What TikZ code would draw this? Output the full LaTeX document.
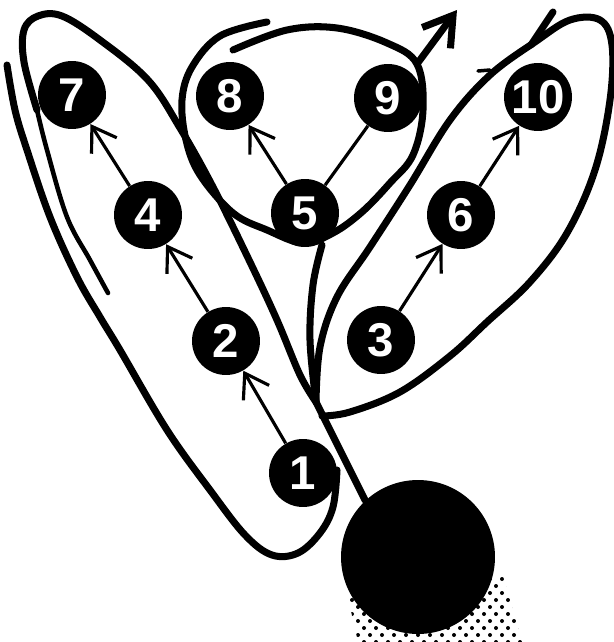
\documentclass[tikz,border=0pt]{standalone}
\usepackage{fontspec}
\setsansfont{Liberation Sans}
\usetikzlibrary{arrows.meta}

\begin{document}
\begin{tikzpicture}[x=0.02cm, y=-0.02cm,
    >={Straight Barb[length=13pt, width=17pt, line width=1.8pt]},
    stone/.style={circle, fill=black, minimum size=1.36cm, inner sep=0pt,
      text=white, font=\sffamily\bfseries\fontsize{27}{27}\selectfont},
    hop/.style={line width=1.8pt},
    track/.style={line width=4pt, line cap=round, line join=round},
    streak/.style={line width=2.6pt, line cap=round}]
  \useasboundingbox (0,0) rectangle (614,642);
  % shadow of the ball
  \begin{scope}
    \clip (348,598) -- (358,642) -- (522,642) -- (503,576) -- cycle;
    \foreach \r in {0,...,10}
      \foreach \c in {0,...,15}
        \fill ({340+12*\c+6*mod(\r,2)},{572+7*\r}) circle (2);
  \end{scope}
  % the ball
  \node[circle, fill=black, minimum size=3.08cm, inner sep=0pt] (ball) at (418,557) {};
  % path of the ball
  \coordinate (fork) at (316,402);
  \coordinate (loopend) at (417,64);
  \coordinate (exit) at (457,10);
  \draw[track] (ball.133) -- (fork);
  % left lap: outer stroke, then inner stroke over the top
  \draw[track] plot[smooth, tension=0.6] coordinates {(337,470) (333,507) (320,533)
    (298,553) (272,555) (245,535) (210,490) (167,430) (120,350) (100,317) (77,277)
    (50,217) (27,150) (15,110) (7,65)};
  \draw[track] plot[smooth, tension=0.6] coordinates {(316,402) (300,375) (277,320)
    (250,262) (213,187) (180,128) (148,80) (100,40) (62,16) (38,16) (24,30) (24,62)
    (37,110)};
  \draw[streak] plot[smooth, tension=0.6] coordinates {(37,110) (47,150) (67,217)
    (90,260) (108,293)};
  \draw[track] plot[smooth, tension=0.6] coordinates {(fork) (310,340) (313,285) (322,245)};
  % middle lap round 8 and 9
  \draw[track] plot[smooth, tension=0.6] coordinates {(267,22) (220,36) (192,67)
    (182,100) (186,140) (200,175) (233,213) (267,230) (303,243) (333,233) (362,212)
    (390,183) (413,155) (423,110) (loopend) (387,43) (337,28) (287,30) (233,50)};
  \draw[track, -{Straight Barb[length=16pt, width=20pt]}] (loopend) -- (exit);
  % right lap
  \draw[track] plot[smooth, tension=0.6] coordinates {(fork) (320,347) (337,297)
    (370,247) (410,185) (450,120) (490,75) (535,42) (570,20) (600,20) (612,45)
    (610,100) (595,170) (567,233) (530,282) (487,322) (450,356) (400,392) (350,412)
    (322,416)};
  \draw[track] (531,45) -- (553,12);
  \draw[streak, line width=2pt] (490,70) -- (478,71);
  % stones
  \node[stone] (n1) at (303,473) {1};
  \node[stone] (n2) at (226,341) {2};
  \node[stone] (n3) at (381,340) {3};
  \node[stone] (n4) at (148,215) {4};
  \node[stone] (n5) at (305,213) {5};
  \node[stone] (n6) at (461,215) {6};
  \node[stone] (n7) at (72,95) {7};
  \node[stone] (n8) at (230,96) {8};
  \node[stone] (n9) at (388,98) {9};
  \node[stone] (n10) at (538,97) {10};
  % hops between stones
  \draw[->, hop] (n1) -- (n2);
  \draw[->, hop] (n2) -- (n4);
  \draw[->, hop] (n4) -- (n7);
  \draw[->, hop] (n5) -- (n8);
  \draw[hop] (n5) -- (n9);
  \draw[->, hop] (n3) -- (n6);
  \draw[->, hop] (n6) -- (n10);
\end{tikzpicture}
\end{document}
